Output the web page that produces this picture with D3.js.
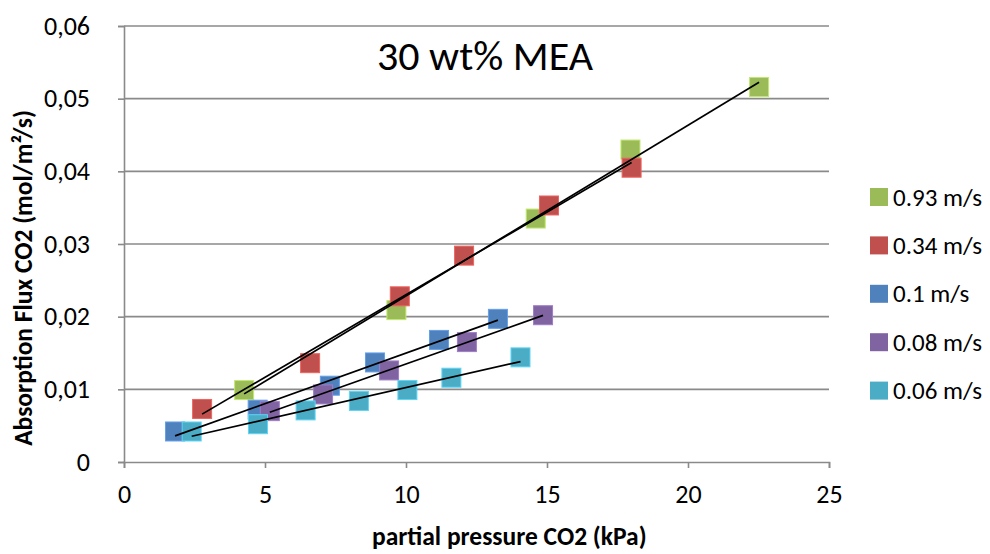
<!DOCTYPE html>
<html lang="en">
<head>
    <meta charset="UTF-8">
    <title>30 wt% MEA</title>
    <script type="application/javascript" src="https://cdnjs.cloudflare.com/ajax/libs/d3/7.8.5/d3.min.js"></script>
    <style type="text/css">
        body { margin: 0; background: #fff; }
        text { font-family: Calibri, Carlito, "Open Sans", sans-serif; fill: #000; }
        .grid line { stroke: #8a8a8a; stroke-width: 1.6; }
        .axis path, .axis line { stroke: #8a8a8a; stroke-width: 1.6; }
    </style>
</head>
<body>
<svg id="chart" width="990" height="554"></svg>
<script type="application/javascript">
    // series: gas velocity, partial pressure CO2 (kPa), absorption flux (mol/m2/s)
    var seriesNames = ['0.93 m/s', '0.34 m/s', '0.1 m/s', '0.08 m/s', '0.06 m/s'];
    var seriesColors = ['#9bbb59', '#c0504d', '#4f81bd', '#8064a2', '#4bacc6'];

    var pressure093 = [4.26, 9.66, 14.60, 17.96, 22.52];
    var flux093 = [0.0099, 0.0209, 0.0335, 0.0430, 0.0516];

    var pressure034 = [2.77, 6.60, 9.78, 12.06, 15.07, 18.00];
    var flux034 = [0.0073, 0.0136, 0.0228, 0.0284, 0.0353, 0.0405];

    var pressure01 = [1.81, 4.74, 7.30, 8.90, 11.17, 13.26];
    var flux01 = [0.0042, 0.0072, 0.0105, 0.0137, 0.0168, 0.0197];

    var pressure008 = [5.17, 7.06, 9.40, 12.16, 14.86];
    var flux008 = [0.0070, 0.0093, 0.0126, 0.0165, 0.0202];

    var pressure006 = [2.40, 4.75, 6.44, 8.33, 10.05, 11.61, 14.06];
    var flux006 = [0.0042, 0.0052, 0.0071, 0.0084, 0.0099, 0.0116, 0.0144];

    var xTicks = [0, 5, 10, 15, 20, 25];
    var yTicks = [0, 0.01, 0.02, 0.03, 0.04, 0.05, 0.06];

    (function () {
        var svg = d3.select('#chart');
        var margin = {top: 26, right: 161, bottom: 92, left: 124};
        var width = +svg.attr('width') - margin.left - margin.right;
        var height = +svg.attr('height') - margin.top - margin.bottom;

        var allX = [pressure093, pressure034, pressure01, pressure008, pressure006];
        var allY = [flux093, flux034, flux01, flux008, flux006];

        var series = seriesNames.map(function (name, i) {
            return {
                name: name,
                color: seriesColors[i],
                points: allX[i].map(function (p, j) { return {x: p, y: allY[i][j]}; })
            };
        });

        var x = d3.scaleLinear().domain([0, 25]).range([0, width]);
        var y = d3.scaleLinear().domain([0, 0.06]).range([height, 0]);

        var vis = svg.append('g')
                .attr('transform', 'translate(' + margin.left + ',' + margin.top + ')');

        // horizontal gridlines
        vis.append('g')
                .attr('class', 'grid')
                .selectAll('line')
                .data(yTicks.slice(1))
                .enter().append('line')
                .attr('x1', 0)
                .attr('x2', width)
                .attr('y1', function (d) { return y(d); })
                .attr('y2', function (d) { return y(d); });

        var fmtY = function (d) { return d === 0 ? '0' : d3.format('.2f')(d).replace('.', ','); };

        var yAxisG = vis.append('g')
                .attr('class', 'axis')
                .call(d3.axisLeft(y).tickValues(yTicks).tickFormat(fmtY).tickSizeOuter(0).tickSize(6).tickPadding(28));
        yAxisG.selectAll('text').attr('font-size', 26).attr('dy', '0.32em');

        var xAxisG = vis.append('g')
                .attr('class', 'axis')
                .attr('transform', 'translate(0,' + height + ')')
                .call(d3.axisBottom(x).tickValues(xTicks).tickFormat(d3.format('d')).tickSizeOuter(0).tickSize(6).tickPadding(17));
        xAxisG.selectAll('text').attr('font-size', 26);

        // markers
        series.forEach(function (s) {
            vis.append('g')
                    .selectAll('rect')
                    .data(s.points)
                    .enter().append('rect')
                    .attr('x', function (d) { return x(d.x) - 9.5; })
                    .attr('y', function (d) { return y(d.y) - 9.5; })
                    .attr('width', 19)
                    .attr('height', 19)
                    .attr('fill', s.color)
                    .attr('stroke', d3.color(s.color).brighter(0.6))
                    .attr('stroke-width', 1);
        });

        // linear trendlines (least squares), drawn from first to last point
        function fit(pts) {
            var mx = d3.mean(pts, function (d) { return d.x; });
            var my = d3.mean(pts, function (d) { return d.y; });
            var sxy = d3.sum(pts, function (d) { return (d.x - mx) * (d.y - my); });
            var sxx = d3.sum(pts, function (d) { return (d.x - mx) * (d.x - mx); });
            var b = sxy / sxx;
            var a = my - b * mx;
            var ext = d3.extent(pts, function (d) { return d.x; });
            return ext.map(function (v) { return {x: v, y: a + b * v}; });
        }

        var line = d3.line()
                .x(function (d) { return x(d.x); })
                .y(function (d) { return y(d.y); });

        series.forEach(function (s) {
            vis.append('path')
                    .datum(fit(s.points))
                    .attr('fill', 'none')
                    .attr('stroke', '#000')
                    .attr('stroke-width', 1.7)
                    .attr('d', line);
        });

        // title
        svg.append('text')
                .attr('x', 485)
                .attr('y', 70)
                .attr('text-anchor', 'middle')
                .attr('font-size', 42)
                .text('30 wt% MEA');

        // legend
        var legend = svg.append('g')
                .selectAll('g')
                .data(series)
                .enter().append('g')
                .attr('transform', function (d, i) { return 'translate(870,' + (188 + i * 48.4) + ')'; });
        legend.append('rect')
                .attr('width', 18)
                .attr('height', 18)
                .attr('fill', function (d) { return d.color; });
        legend.append('text')
                .attr('x', 23)
                .attr('y', 9.5)
                .attr('dy', '0.32em')
                .attr('font-size', 25)
                .text(function (d) { return d.name; });

        // axis titles
        svg.append('text')
                .attr('x', 372)
                .attr('y', 545)
                .attr('font-size', 25.5)
                .attr('font-weight', 'bold')
                .text('partial pressure CO2 (kPa)');

        svg.append('text')
                .attr('text-anchor', 'middle')
                .attr('transform', 'translate(32,278)rotate(-90)')
                .attr('font-size', 25.5)
                .attr('font-weight', 'bold')
                .text('Absorption Flux CO2 (mol/m²/s)');
    })();
</script>
</body>
</html>
